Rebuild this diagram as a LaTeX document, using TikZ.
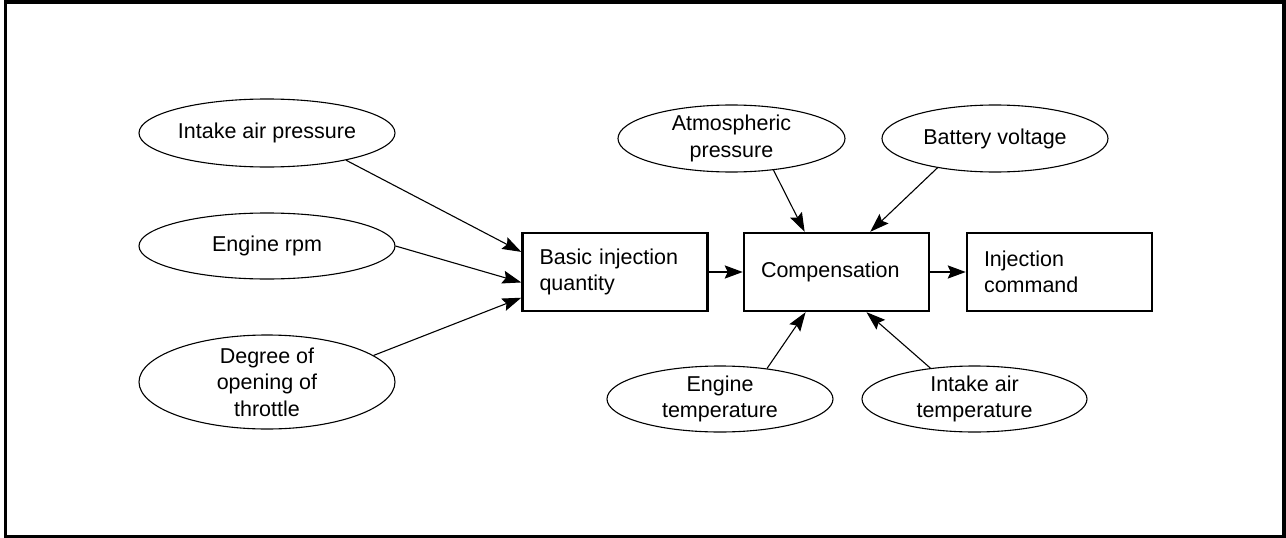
\documentclass[tikz,border=0pt]{standalone}
\usepackage{fontspec}
\setmainfont{Liberation Sans}
\usetikzlibrary{shapes.geometric,arrows.meta,calc}
\newcommand\labfont{\fontsize{21.5}{26.5}\selectfont}
\tikzset{
  ell/.style={ellipse, draw, line width=1.1pt, inner sep=0pt, align=center, font=\labfont},
  blk/.style={rectangle, draw, line width=2.4pt, inner xsep=17pt, inner ysep=0pt,
              text width=151pt, minimum width=185pt, minimum height=78pt, align=left, font=\labfont},
  arr/.style={-{Stealth[length=19pt,width=13pt,inset=3pt]}, line width=1.1pt},
  thickarr/.style={-{Stealth[length=18pt,width=13pt,inset=3pt]}, line width=2.4pt}
}
\begin{document}
\begin{tikzpicture}[x=1pt,y=-1pt]
\useasboundingbox (0,0) rectangle (1286,538);
\draw[line width=3.4pt] (5.6,1.8) rectangle (1284,536.5);

\node[ell, minimum width=256pt, minimum height=68pt] (iap) at (267,133) {Intake air pressure};
\node[ell, minimum width=256pt, minimum height=66pt] (rpm) at (267,246) {Engine rpm};
\node[ell, minimum width=256pt, minimum height=94pt, inner ysep=-4pt] (deg) at (267,382) {Degree of\\opening of\\throttle};
\node[ell, minimum width=227pt, minimum height=67pt] (atm) at (731.5,138.5) {Atmospheric\\pressure};
\node[ell, minimum width=226pt, minimum height=67pt] (bat) at (995,138.5) {Battery voltage};
\node[ell, minimum width=226pt, minimum height=66pt] (etemp) at (720,399) {Engine\\temperature};
\node[ell, minimum width=225pt, minimum height=66pt] (iat) at (974.5,399) {Intake air\\temperature};

\node[blk] (basic) at (615,272) {Basic injection\\quantity};
\node[blk] (comp) at (836.5,272) {Compensation};
\node[blk] (inj) at (1059.5,272) {Injection\\command};

\draw[arr] (iap.-19) -- ($(basic.north west)!0.25!(basic.south west)$);
\draw[arr] (rpm.east) -- ($(basic.north west)!0.63!(basic.south west)$);
\draw[arr] (deg.14) -- ($(basic.north west)!0.82!(basic.south west)$);
\draw[arr] (atm.-37) -- ($(comp.north west)!0.33!(comp.north east)$);
\draw[arr] (bat.-153) -- ($(comp.north west)!0.68!(comp.north east)$);
\draw[arr] (etemp.33) -- ($(comp.south west)!0.335!(comp.south east)$);
\draw[arr] (iat.145) -- ($(comp.south west)!0.66!(comp.south east)$);
\draw[thickarr] (basic) -- (comp);
\draw[thickarr] (comp) -- (inj);
\end{tikzpicture}
\end{document}
